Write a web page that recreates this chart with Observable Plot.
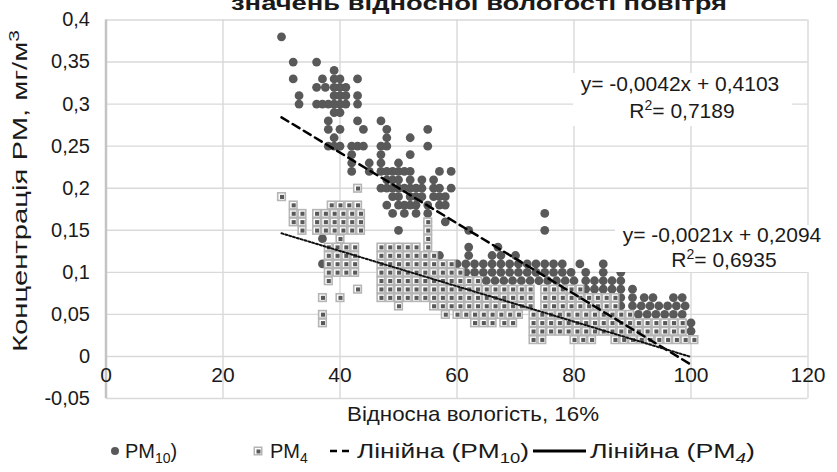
<!DOCTYPE html>
<html>
<head>
<meta charset="utf-8">
<script src="https://cdn.jsdelivr.net/npm/d3@7"></script>
<script src="https://cdn.jsdelivr.net/npm/@observablehq/plot@0.6"></script>
<style>
  html, body { margin: 0; padding: 0; background: #fff; }
  #wrap { position: relative; width: 837px; height: 472px; overflow: hidden; background: #fff; }
  #chart { position: absolute; left: 0; top: 0; }
  #overlay { position: absolute; left: 0; top: 0; pointer-events: none; }
  text { font-family: "Liberation Sans", Arial, sans-serif; fill: #1a1a1a; }
</style>
</head>
<body>
<div id="wrap">
  <div id="chart"></div>
  <svg id="overlay" width="837" height="472" xmlns="http://www.w3.org/2000/svg">
    <text x="231" y="10" font-size="21" font-weight="bold" textLength="496" lengthAdjust="spacingAndGlyphs">значень відносної вологості повітря</text>
    <text transform="translate(27,191) rotate(-90)" text-anchor="middle" font-size="21" textLength="322" lengthAdjust="spacingAndGlyphs">Концентрація РМ, мг/м<tspan dy="-8" font-size="15">3</tspan></text>
    <rect x="573" y="73" width="219" height="53" fill="#fff"/>
    <text x="680" y="91" text-anchor="middle" font-size="21">y= -0,0042x + 0,4103</text>
    <text x="682" y="118" text-anchor="middle" font-size="21">R<tspan dy="-8" font-size="14">2</tspan><tspan dy="8">= 0,7189</tspan></text>
    <rect x="615" y="225" width="220" height="47" fill="#fff"/>
    <text x="722" y="242" text-anchor="middle" font-size="21">y= -0,0021x + 0,2094</text>
    <text x="724" y="267" text-anchor="middle" font-size="21">R<tspan dy="-8" font-size="14">2</tspan><tspan dy="8">= 0,6935</tspan></text>
    <text x="347" y="421" font-size="21" textLength="252" lengthAdjust="spacingAndGlyphs">Відносна вологість, 16%</text>
    <g id="legend">
      <circle cx="115" cy="451" r="4" fill="#595959"/>
      <text x="125" y="458" font-size="20">PM<tspan dy="5" font-size="14">10</tspan><tspan dy="-5">)</tspan></text>
      <rect x="253.5" y="446.5" width="9" height="9" fill="#b5b5b5"/>
      <rect x="255" y="448" width="6" height="6" fill="#fff"/>
      <rect x="256.5" y="449.5" width="4" height="4" fill="#595959"/>
      <text x="270" y="458" font-size="20">PM<tspan dy="5" font-size="14">4</tspan></text>
      <line x1="330" x2="353" y1="451" y2="451" stroke="#000" stroke-width="2.5" stroke-dasharray="7,5"/>
      <text x="357" y="458" font-size="20" textLength="172" lengthAdjust="spacingAndGlyphs">Лінійна (PM<tspan dy="5" font-size="14">10</tspan><tspan dy="-5">)</tspan></text>
      <line x1="533" x2="586" y1="451" y2="451" stroke="#000" stroke-width="3"/>
      <text x="590" y="458" font-size="20" textLength="165" lengthAdjust="spacingAndGlyphs">Лінійна (PM<tspan dy="5" font-size="14" font-style="italic">4</tspan><tspan dy="-5">)</tspan></text>
    </g>
  </svg>
</div>
<script>
// ---- data ----
const xTicks = [0, 20, 40, 60, 80, 100, 120];
const yTicks = [-0.05, 0, 0.05, 0.1, 0.15, 0.2, 0.25, 0.3, 0.35, 0.4];

// PM10 observations: [concentration, humidity values at that level]
const pm10Rows = [
  [0.38, [30]],
  [0.35, [32, 36]],
  [0.34, [39]],
  [0.33, [32, 37, 39, 40, 43]],
  [0.32, [36, 37.5, 39, 40, 41]],
  [0.31, [33, 39, 40, 41, 43]],
  [0.30, [33, 36, 37, 38, 39, 40, 41, 43]],
  [0.29, [39, 40]],
  [0.28, [38, 43, 47]],
  [0.27, [38, 40, 44, 48, 55]],
  [0.26, [39, 48, 52]],
  [0.25, [38, 39, 40, 42, 43, 44, 47, 48, 55]],
  [0.24, [42, 47, 52]],
  [0.23, [42, 45, 47, 50]],
  [0.22, [42, 45, 47, 48, 49, 50, 51, 52, 57, 59]],
  [0.21, [48, 49, 50, 52, 54, 56]],
  [0.20, [47, 48, 49, 50, 51, 52, 53, 54, 56, 57, 59]],
  [0.19, [49, 50, 52, 53, 54, 56, 57, 58]],
  [0.18, [48, 50, 51, 52, 53, 55, 57, 58]],
  [0.17, [43, 49, 51, 53, 55, 75]],
  [0.16, [55, 58]],
  [0.15, [50, 62, 75]],
  [0.14, [37]],
  [0.13, [50, 62, 67]],
  [0.12, [57, 62, 66, 67.5, 70]],
  [0.11, [37, 60, 61.5, 63, 64.5, 66, 67.5, 69, 70.5, 72, 73.5, 75, 76.5, 78, 81, 85]],
  [0.10, [60, 61.5, 63, 64.5, 66, 67.5, 69, 70.5, 72, 73.5, 75, 76.5, 78, 79.5, 82, 85, 88]],
  [0.09, [62, 63.5, 65, 66.5, 68, 69.5, 71, 72.5, 74, 75.5, 77, 78.5, 80, 82, 83.5, 85, 86.5, 88]],
  [0.08, [75, 76.5, 78, 79.5, 82, 83.5, 85, 86.5, 88, 90]],
  [0.07, [88, 90, 92, 93.5, 97, 98.5]],
  [0.06, [88, 90, 91.5, 93, 94.5, 96, 97.5, 99]],
  [0.05, [91, 92.5, 94, 95.5, 97, 98.5]],
  [0.04, [100]],
  [0.03, [100]]
];

// PM4 observations
const pm4Rows = [
  [0.20, [43]],
  [0.19, [30]],
  [0.18, [32, 38.5, 40, 41.5, 43]],
  [0.17, [32, 33.5, 36, 37.5, 39, 40.5, 42, 43.5]],
  [0.16, [32, 33.5, 36, 37.5, 39, 40.5, 42, 43.5, 55]],
  [0.15, [33.5, 36, 37.5, 39, 40.5, 42, 43.5, 55]],
  [0.14, [40, 55]],
  [0.13, [38, 39.5, 41, 42.5, 47, 48.5, 50, 51.5, 53, 55]],
  [0.12, [38, 39.5, 41, 42.5, 47, 48.5, 50, 51.5, 53, 54.5, 56]],
  [0.11, [38, 39.5, 41, 42.5, 47, 48.5, 50, 51.5, 53, 54.5, 56, 57.5, 59]],
  [0.10, [38, 39.5, 41, 42.5, 47, 48.5, 50, 51.5, 53, 54.5, 56, 57.5, 59, 60.5]],
  [0.09, [38, 47, 48.5, 50, 51.5, 53, 54.5, 56, 57.5, 59, 60.5, 62, 63.5]],
  [0.08, [43, 47, 48.5, 50, 51.5, 53, 54.5, 56, 57.5, 59, 60.5, 62, 63.5, 65, 66.5, 68, 69.5, 71, 72.5, 75, 76.5, 78, 79.5, 81]],
  [0.07, [37, 40, 47, 48.5, 50, 51.5, 53, 54.5, 56, 57.5, 59, 60.5, 62, 63.5, 65, 66.5, 68, 69.5, 71, 72.5, 75, 76.5, 78, 79.5, 81, 82.5, 84, 85.5, 87]],
  [0.06, [50, 56, 57.5, 59, 60.5, 62, 63.5, 65, 66.5, 68, 69.5, 71, 72.5, 75, 76.5, 78, 79.5, 81, 82.5, 84, 85.5, 87]],
  [0.05, [37, 58, 60, 61.5, 63, 64.5, 66, 67.5, 69, 70.5, 73, 74.5, 76, 77.5, 79, 80.5, 82, 83.5, 85, 86.5, 88, 89.5]],
  [0.04, [37, 63, 64.5, 66, 68, 69.5, 73, 74.5, 76, 77.5, 79, 80.5, 82, 83.5, 85, 86.5, 88, 89.5, 91, 92.5, 94, 95.5, 97, 98.5]],
  [0.03, [73, 74.5, 76, 77.5, 79, 80.5, 82, 83.5, 85, 86.5, 88, 89.5, 91, 92.5, 94, 95.5, 97, 98.5]],
  [0.02, [73, 74.5, 80, 81.5, 83, 87, 88.5, 90, 91.5, 93, 94.5, 96, 97.5, 99, 100.5]]
];

// linear trend lines as printed on the chart
const trendPM10 = {slope: -0.0042, intercept: 0.4103, xFrom: 30, xTo: 100};
const trendPM4  = {slope: -0.0021, intercept: 0.2094, xFrom: 30, xTo: 100};

// ---- build tables ----
const flatten = rows => rows.flatMap(([y, xs]) => xs.map(x => ({x, y})));
const pm10 = flatten(pm10Rows);
const pm4 = flatten(pm4Rows);
const trendLine = t => [t.xFrom, t.xTo].map(x => ({x, y: t.slope * x + t.intercept}));

const chart = Plot.plot({
  width: 837,
  height: 472,
  marginLeft: 105.5,
  marginRight: 29.5,
  marginTop: 19.5,
  marginBottom: 74,
  style: {fontFamily: "Liberation Sans, Arial, sans-serif", background: "transparent", color: "#1a1a1a"},
  x: {domain: [0, 120], axis: null},
  y: {domain: [-0.05, 0.4], axis: null},
  marks: [
    Plot.gridY(yTicks, {stroke: "#d9d9d9", strokeOpacity: 1, strokeWidth: 1.4}),
    Plot.gridX(xTicks.slice(1), {stroke: "#d9d9d9", strokeOpacity: 1, strokeWidth: 1.4}),
    Plot.ruleX([0], {stroke: "#c4c4c4", strokeWidth: 2.5}),
    Plot.text(yTicks, {y: d => d, frameAnchor: "left", dx: -16, textAnchor: "end", text: d => String(d).replace(".", ","), fontSize: 20, ariaLabel: "y tick labels"}),
    Plot.text(xTicks, {x: d => d, y: () => 0, dy: 19, text: d => String(d), fontSize: 21, ariaLabel: "x tick labels"}),
    Plot.dot(pm10, {x: "x", y: "y", r: 4.4, fill: "#595959"}),
    Plot.dot(pm4, {x: "x", y: "y", symbol: "square", r: 5.2, fill: "#b5b5b5"}),
    Plot.dot(pm4, {x: "x", y: "y", symbol: "square", r: 3.4, fill: "#ffffff"}),
    Plot.dot(pm4, {x: "x", y: "y", symbol: "square", r: 2.3, fill: "#595959", dx: 0.5, dy: 0.3}),
    Plot.line(trendLine(trendPM10), {x: "x", y: "y", stroke: "#000", strokeWidth: 2.5, strokeDasharray: "8,5"}),
    Plot.line(trendLine(trendPM4), {x: "x", y: "y", stroke: "#111", strokeWidth: 2, strokeDasharray: "2,2"})
  ]
});
// y tick labels in the reference are drawn slightly wider
d3.select(chart).selectAll("g[aria-label='y tick labels'] text").style("letter-spacing", "1.5px");
document.getElementById("chart").appendChild(chart);
</script>
</body>
</html>
